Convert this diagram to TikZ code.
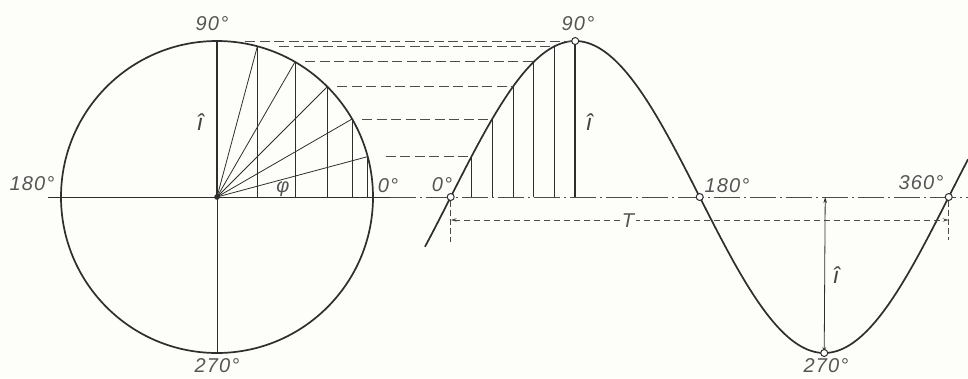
\documentclass[tikz,border=0pt]{standalone}
\usepackage{fontspec}
\setmainfont{Liberation Sans}
\newfontfamily\lblfont[LetterSpace=6]{Liberation Sans}
\usetikzlibrary{arrows.meta}
\definecolor{ink}{HTML}{2E2E2E}
\definecolor{txt}{HTML}{555555}
\definecolor{paper}{HTML}{FDFDF9}
\begin{document}
\begin{tikzpicture}[x=1pt,y=-1pt,
  lbl/.style={font=\lblfont\itshape\fontsize{20}{20}\selectfont, text=txt, inner sep=0pt},
  ihat/.style={font=\itshape\fontsize{23}{23}\selectfont, text=ink!90, inner sep=0pt},
  thinln/.style={draw=ink, line width=0.8pt},
  thickln/.style={draw=ink, line width=2.2pt},
  curveln/.style={draw=ink, line width=1.7pt},
  proj/.style={draw=ink!85, line width=0.9pt, dash pattern=on 10pt off 4.5pt},
  axisdd/.style={draw=ink!85, line width=0.9pt, dash pattern=on 26pt off 4pt on 2pt off 4pt},
  dimln/.style={draw=ink!85, line width=0.8pt, dash pattern=on 6pt off 4pt},
  extln/.style={draw=ink!85, line width=0.8pt, dash pattern=on 6pt off 3pt},
  pt/.style={circle, draw=ink, fill=white, line width=1pt, minimum size=7pt, inner sep=0pt}
]
\fill[paper] (0,0) rectangle (968,378);
\useasboundingbox (0,0) rectangle (968,378);

% ---------- circle ----------
\coordinate (C) at (217,197);
\draw[curveln] (C) circle[radius=156pt];
\coordinate (axL) at (48,197);
\coordinate (axM) at (390,197);
\coordinate (axR) at (968,197);
\coordinate (cTop) at (217,41);
\coordinate (cBot) at (217,353);
\draw[thinln] (axL) -- (axM);
\draw[axisdd] (axM) -- (axR);
\draw[thinln] (C) -- (cBot);
\draw[thickln] (C) -- (cTop);
\fill[ink] (C) circle[radius=2.8pt];

\foreach \a in {15,30,45,60,75}{
  \coordinate (p\a) at ({217+156*cos(\a)},{197-156*sin(\a)});
  \coordinate (c\a) at ({217+156*cos(\a)},197);
  \draw[thinln] (C) -- (p\a);
  \draw[thinln] (p\a) -- (c\a);
}
\coordinate (p90) at (217,41);

% ---------- sine ----------
\foreach \a in {0,15,30,45,60,75,90,180,270,360}{
  \coordinate (s\a) at ({450.7+\a/360*498},{197-156*sin(\a)});
  \coordinate (f\a) at ({450.7+\a/360*498},197);
}
\foreach \a in {15,30,45,60,75}{
  \draw[thinln] (f\a) -- (s\a);
}
\draw[thickln] (f90) -- (s90);
\draw[curveln] plot[domain=-18.6:374, samples=200] ({450.7+\x/360*498},{197-156*sin(\x)});

% projection lines
\draw[proj, shorten <=28pt] (p90) -- (s90);
\draw[proj, shorten <=22pt] (p75) -- (s75);
\draw[proj, shorten <=10pt] (p60) -- (s60);
\draw[proj, shorten <=10pt] (p45) -- (s45);
\draw[proj, shorten <=10pt] (p30) -- (s30);
\draw[proj, shorten <=18pt] (p15) -- (s15);

% period dimension
\coordinate (e0a) at (450.7,201);
\coordinate (e0b) at (450.7,242);
\coordinate (e3a) at (948.7,201);
\coordinate (e3b) at (948.7,240);
\coordinate (d0) at (450.7,220);
\coordinate (d3) at (948.7,220);
\draw[extln] (e0a) -- (e0b);
\draw[extln] (e3a) -- (e3b);
\draw[dimln, {Stealth[length=6pt,width=3.5pt]}-{Stealth[length=6pt,width=3.5pt]}] (d0) -- (d3);
\node[lbl, fill=paper, inner sep=2pt] (T) at (628,221) {T};

% amplitude arrow
\coordinate (a1) at (825.2,197);
\draw[thinln, {Stealth[length=6pt,width=3.5pt]}-{Stealth[length=6pt,width=3.5pt]}] (a1) -- (s270);

% points
\foreach \a in {0,90,180,270,360}{
  \node[pt] (k\a) at (s\a) {};
}

% labels
\node[lbl] (l90c) at (212,24) {90°};
\node[lbl] (l180c) at (32,184) {180°};
\node[lbl] (l0c) at (388,186) {0°};
\node[lbl] (l270c) at (217,366) {270°};
\node[lbl] (lphi) at (283,189) {φ};
\node[ihat] (lic) at (200,122) {î};
\node[lbl] (l0s) at (442,185) {0°};
\node[lbl] (l90s) at (578,24) {90°};
\node[ihat] (lis) at (589,122) {î};
\node[lbl] (l180s) at (727,186) {180°};
\node[lbl] (l360s) at (921,183) {360°};
\node[lbl] (l270s) at (826,366) {270°};
\node[ihat] (lia) at (836,275) {î};
\end{tikzpicture}
\end{document}
